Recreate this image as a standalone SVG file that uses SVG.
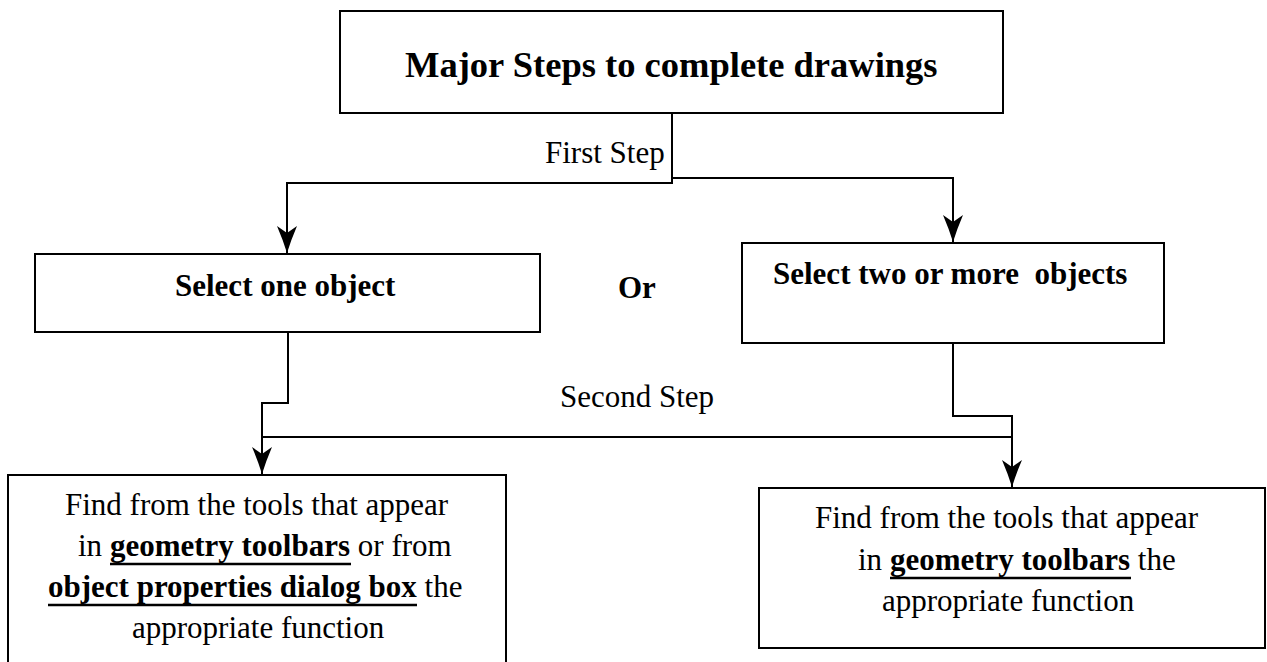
<svg xmlns="http://www.w3.org/2000/svg" width="1267" height="662" viewBox="0 0 1267 662">
<style>
.box{fill:#fff;stroke:#000;stroke-width:2}
.ln{fill:none;stroke:#000;stroke-width:2}
.ul{stroke:#000;stroke-width:2.5}
.t{font-family:"Liberation Serif","Times New Roman",serif;font-size:31px;fill:#000}
.b{font-weight:bold}
.title{font-family:"Liberation Serif","Times New Roman",serif;font-size:36.5px;font-weight:bold;fill:#000}
</style>
<defs>
<marker id="arr" markerUnits="userSpaceOnUse" markerWidth="30" markerHeight="24" refX="27" refY="10" orient="auto">
<path d="M0,0 Q14,6 27,10 Q14,14 0,20 L7,10 Z" fill="#000"/>
</marker>
</defs>
<rect width="1267" height="662" fill="#fff"/>
<g id="connectors">
<polyline class="ln" points="672,113 672,183 287,183 287,253" marker-end="url(#arr)"/>
<polyline class="ln" points="672,178 953,178 953,242" marker-end="url(#arr)"/>
<polyline class="ln" points="288,332 288,403 262,403 262,474" marker-end="url(#arr)"/>
<polyline class="ln" points="953,343 953,416 1012,416 1012,487" marker-end="url(#arr)"/>
<line class="ln" x1="262" y1="437" x2="1012" y2="437"/>
<text class="t" x="545" y="163">First Step</text>
<text class="t" x="560" y="407">Second Step</text>
</g>
<g id="title">
<rect class="box" x="340" y="11" width="663" height="102"/>
<text class="title" x="405" y="77">Major Steps to complete drawings</text>
</g>
<g id="select-one">
<rect class="box" x="35" y="254" width="505" height="78"/>
<text class="t b" x="175" y="296">Select one object</text>
</g>
<g id="or">
<text class="t b" x="618" y="298">Or</text>
</g>
<g id="select-two">
<rect class="box" x="742" y="243" width="422" height="100"/>
<text class="t b" x="773" y="284" xml:space="preserve">Select two or more  objects</text>
</g>
<g id="find-one">
<path class="ln" d="M8,670 L8,475 L506,475 L506,670"/>
<text class="t" x="65" y="515">Find from the tools that appear</text>
<text class="t" x="78" y="556">in <tspan class="b">geometry toolbars</tspan> or from</text>
<text class="t" x="48" y="597"><tspan class="b">object properties dialog box</tspan> the</text>
<text class="t" x="132" y="638">appropriate function</text>
<line class="ul" x1="110" y1="564" x2="351" y2="564"/>
<line class="ul" x1="48" y1="605" x2="417" y2="605"/>
</g>
<g id="find-two">
<rect class="box" x="759" y="488" width="506" height="160"/>
<text class="t" x="815" y="528">Find from the tools that appear</text>
<text class="t" x="858" y="570">in <tspan class="b">geometry toolbars</tspan> the</text>
<text class="t" x="882" y="611">appropriate function</text>
<line class="ul" x1="890" y1="578" x2="1131" y2="578"/>
</g>
</svg>
